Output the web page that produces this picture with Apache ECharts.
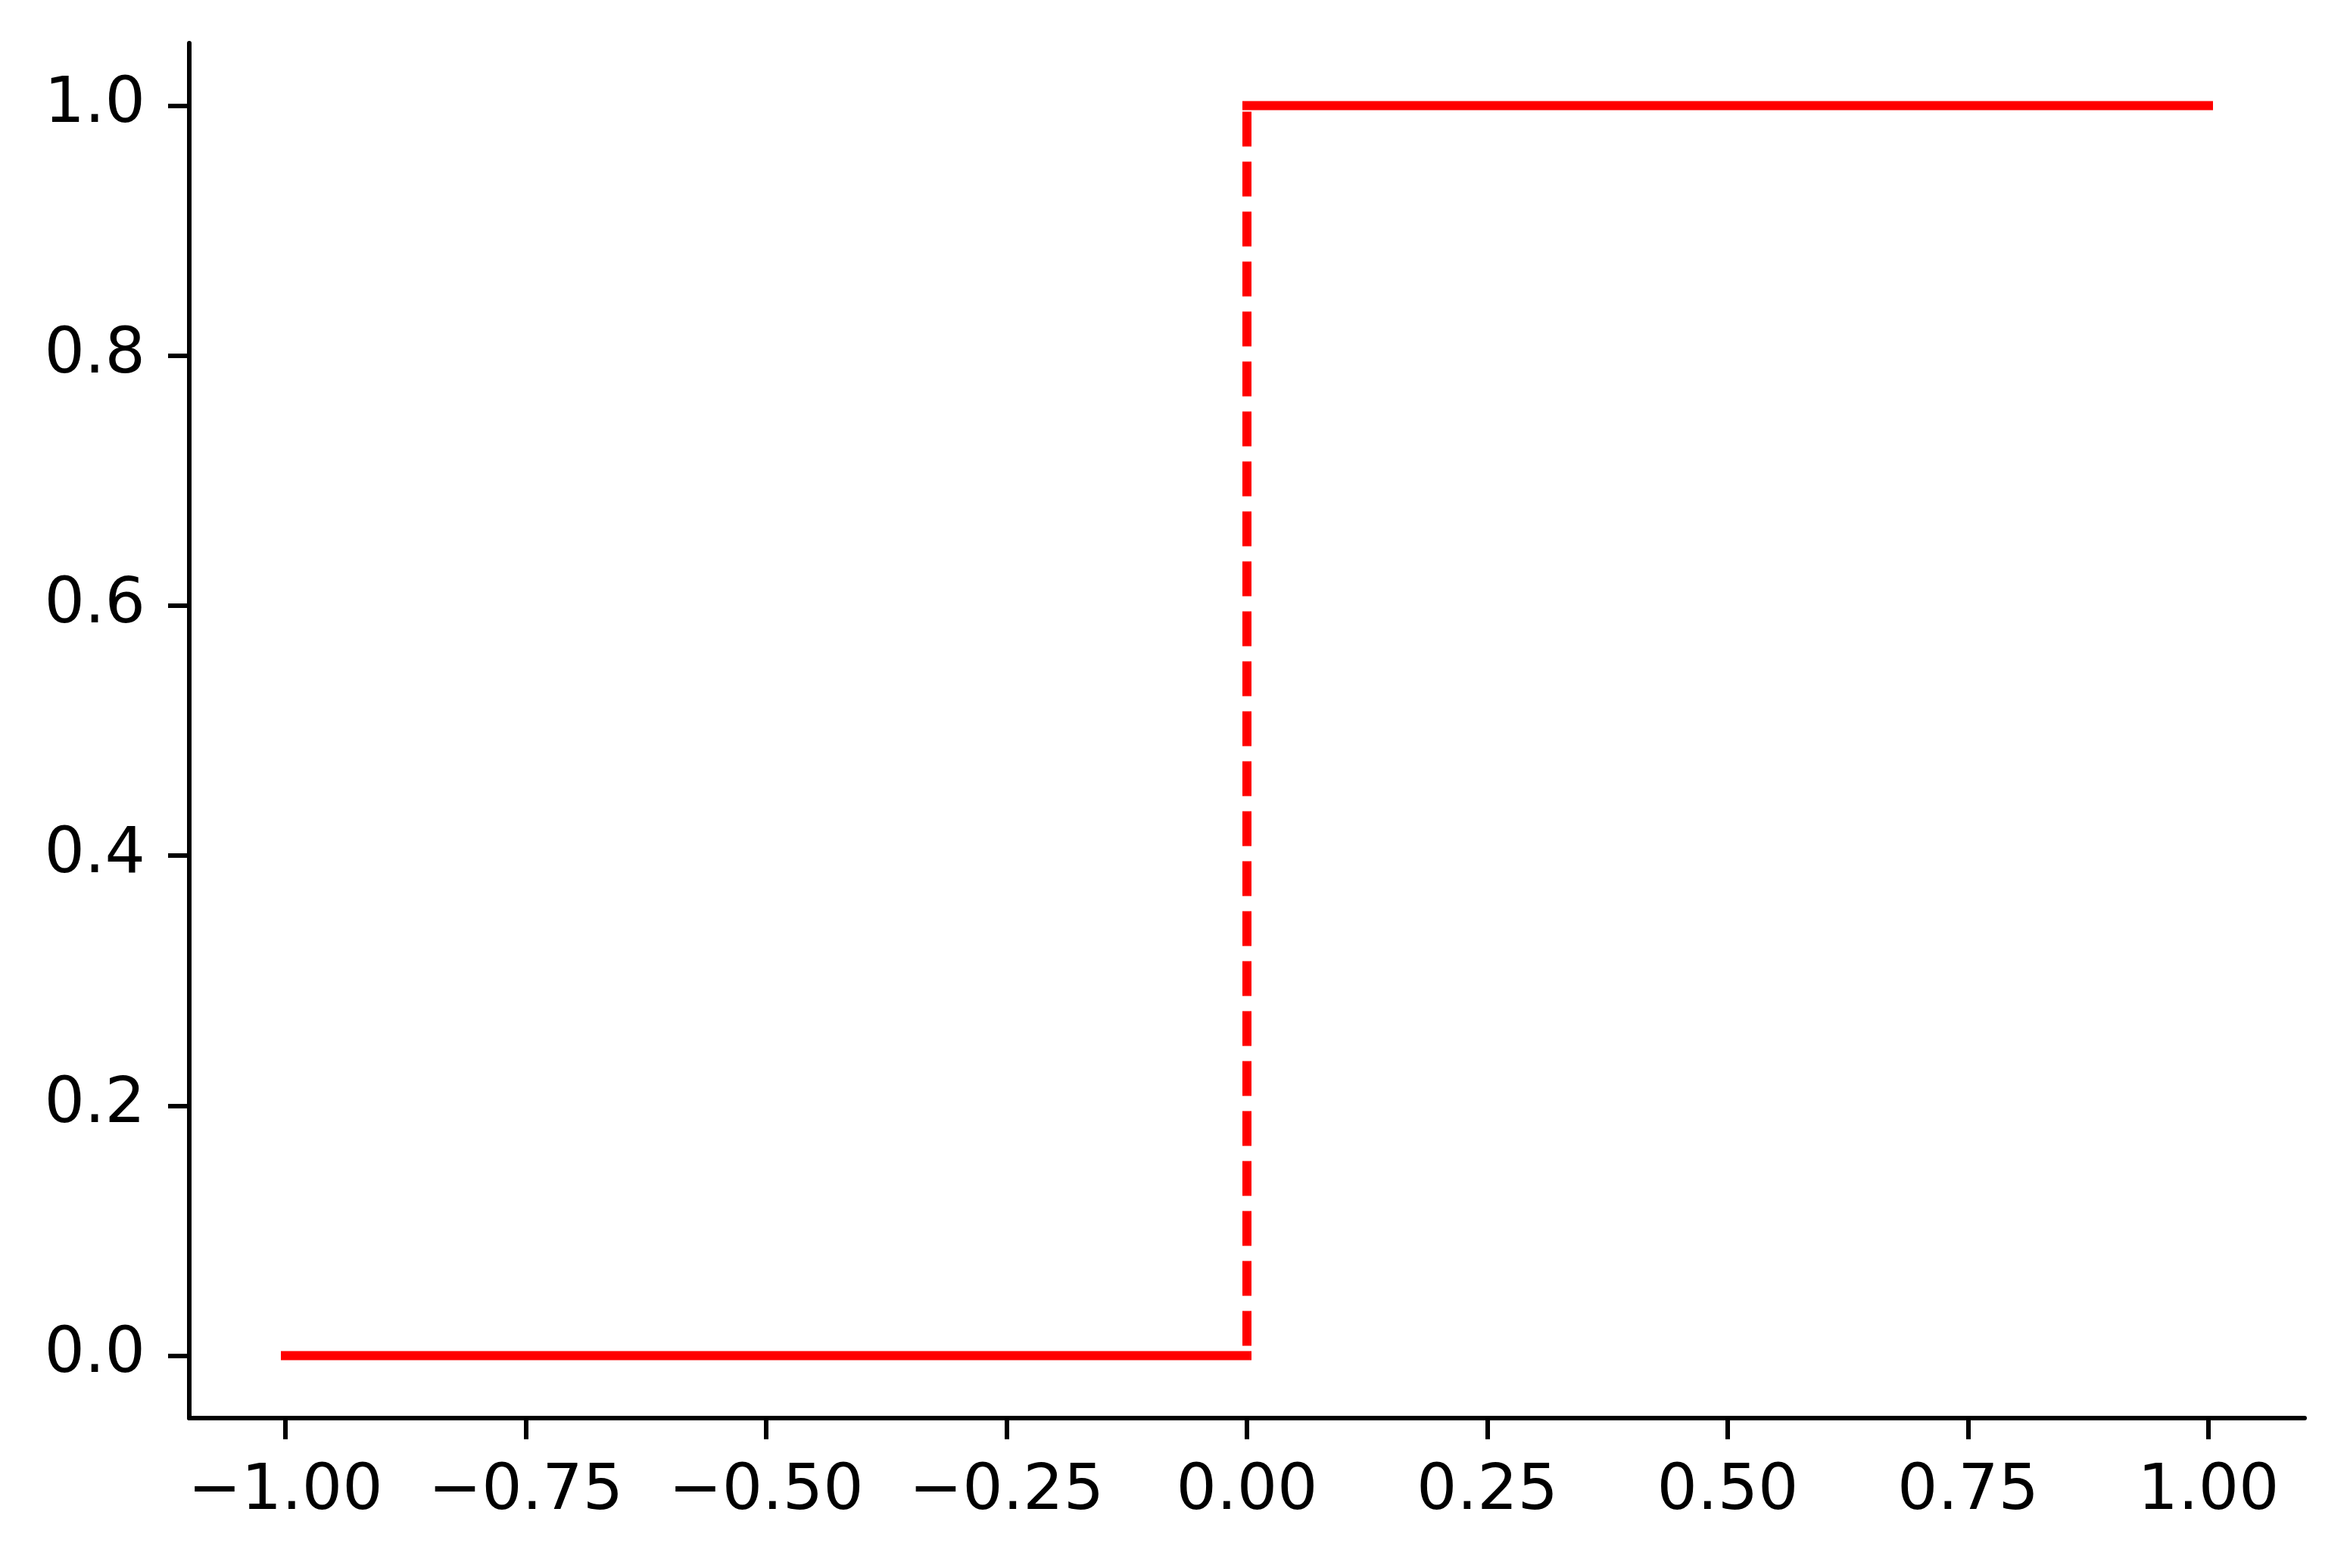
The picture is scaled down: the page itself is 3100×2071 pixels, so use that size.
<!DOCTYPE html>
<html>
<head>
<meta charset="utf-8">
<script src="https://cdn.jsdelivr.net/npm/echarts@6/dist/echarts.min.js"></script>
<style>
  html, body { margin: 0; padding: 0; background: #fff; }
  #chart { width: 3100px; height: 2071px; }
</style>
</head>
<body>
<div id="chart"></div>
<script>
// step data: solid low part, dashed jump, solid high part
const lowX = [-1, 0];
const lowY = [0, 0];
const jumpX = [0, 0];
const jumpY = [1, 0];
const highX = [0, 1];
const highY = [1, 1];

// tick labels
const xTicks = [-1, -0.75, -0.5, -0.25, 0, 0.25, 0.5, 0.75, 1];
const yTicks = [0, 0.2, 0.4, 0.6, 0.8, 1.0];

const zip = (xs, ys) => xs.map((x, i) => [x, ys[i]]);

const chart = echarts.init(document.getElementById('chart'));

const labelFont = { fontFamily: 'DejaVu Sans', fontSize: 84, color: '#000' };
const axisLine = { show: true, onZero: false, lineStyle: { color: '#000', width: 6 } };

const option = {
  backgroundColor: '#fff',
  animation: false,
  grid: { left: 250, right: 56, top: 57, bottom: 198, containLabel: false },
  xAxis: {
    type: 'value',
    min: -1.1,
    max: 1.1,
    axisLine: axisLine,
    splitLine: { show: false },
    axisTick: { show: true, length: 28, lineStyle: { color: '#000', width: 6 }, customValues: xTicks },
    axisLabel: {
      ...labelFont,
      margin: 56,
      customValues: xTicks,
      formatter: v => (v < 0 ? '\u2212' : '') + Math.abs(v).toFixed(2)
    }
  },
  yAxis: {
    type: 'value',
    min: -0.05,
    max: 1.05,
    axisLine: axisLine,
    splitLine: { show: false },
    axisTick: { show: true, length: 28, lineStyle: { color: '#000', width: 6 }, customValues: yTicks },
    axisLabel: {
      ...labelFont,
      margin: 58,
      customValues: yTicks,
      formatter: v => v.toFixed(1)
    }
  },
  series: [
    {
      type: 'line',
      data: zip(lowX, lowY),
      showSymbol: false,
      lineStyle: { color: '#ff0000', width: 12, cap: 'square' }
    },
    {
      type: 'line',
      data: zip(jumpX, jumpY),
      showSymbol: false,
      lineStyle: { color: '#ff0000', width: 12, type: [46, 20], dashOffset: 58, cap: 'butt' }
    },
    {
      type: 'line',
      data: zip(highX, highY),
      showSymbol: false,
      lineStyle: { color: '#ff0000', width: 12, cap: 'square' }
    }
  ]
};

chart.setOption(option);
</script>
</body>
</html>
